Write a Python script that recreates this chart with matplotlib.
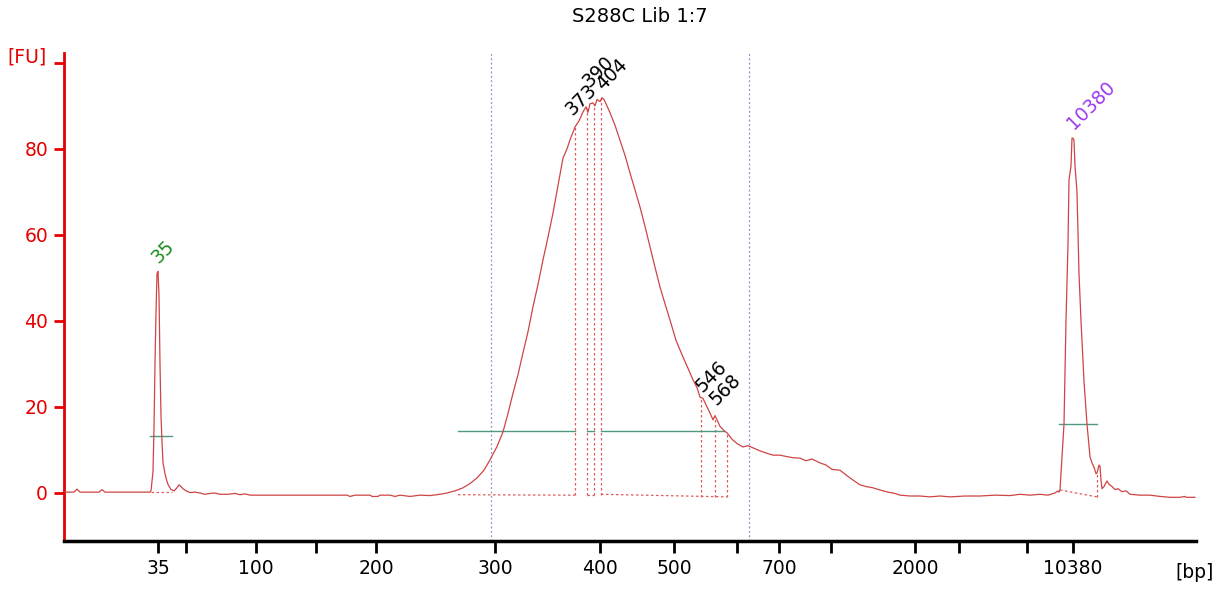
import matplotlib
matplotlib.use("Agg")
import matplotlib.pyplot as plt

plt.rcParams['font.family'] = ['DejaVu Sans']

# ---------------- data ----------------
# migration position (axis units) and fluorescence [FU]
trace_pos = [65, 74, 77, 80, 99, 102, 105, 150,
             151, 153, 154, 155, 156, 157, 158, 159, 160, 161, 162, 163, 165, 166, 168, 171, 174,
             177, 179, 181, 183, 186, 190, 195, 200, 205, 210, 215, 220, 228, 235, 240, 245, 250,
             300, 347, 350, 355, 370, 372, 378, 380, 390, 395, 400, 410, 420, 430, 440, 447,
             455, 463, 470, 477, 484, 490, 497, 503, 508, 513, 518, 523, 528, 533, 538, 543, 548,
             553, 558, 563, 567, 570, 575, 579, 583, 586, 588, 590, 593, 595, 597, 600, 602, 604,
             607, 610, 615, 620, 625, 630, 635, 640, 645, 650, 655, 660, 665, 670, 676, 683, 688,
             693, 697, 700, 703, 706, 710, 713, 715, 717, 720, 724, 727, 732, 737, 743, 748, 753,
             760, 766, 773, 780, 786, 793, 800, 806, 812, 820, 826, 832, 840, 846, 853, 860, 866,
             873, 880, 888, 895, 900, 910, 920, 930, 940, 950, 965, 980, 995, 1010, 1020, 1030,
             1040, 1048, 1055, 1058, 1059, 1060, 1062, 1064, 1066, 1068, 1069, 1071, 1072, 1073,
             1074, 1075, 1077, 1079, 1081, 1084, 1087, 1089, 1090, 1092, 1094, 1096, 1097, 1099,
             1100, 1101, 1102, 1104, 1107, 1109, 1112, 1115, 1118, 1122, 1126, 1130, 1140, 1150,
             1160, 1170, 1180, 1185, 1186, 1195]
trace_fu = [0.2, 0.2, 0.9, 0.2, 0.2, 0.8, 0.2, 0.2,
            0.5, 5, 15, 30, 42, 51, 51.5, 46, 30, 18, 12, 7, 4.5, 3.5, 2, 0.8, 0.5,
            1.2, 1.9, 1.5, 1.0, 0.5, 0.1, 0.2, 0.0, -0.3, -0.1, 0.0, -0.3, -0.3, -0.1, -0.4, -0.2, -0.5,
            -0.5, -0.5, -0.8, -0.5, -0.5, -0.8, -0.8, -0.5, -0.5, -0.8, -0.5, -0.8, -0.5, -0.6, -0.3, 0.0,
            0.5, 1.2, 2.2, 3.5, 5.3, 7.7, 10.8, 14.2, 18.5, 23.2, 27.5, 32.6, 37.5, 43.3, 48.5, 54.2, 59.5,
            65.1, 71.5, 77.9, 80, 82.1, 85.1, 86.5, 88.6, 89.8, 88.5, 90.5, 90.7, 90, 91.5, 91, 91.9, 91.5,
            90, 88.4, 85.5, 82, 78.5, 74.4, 70.5, 66.5, 62, 57.2, 52.5, 47.9, 44, 40.2, 35.5, 31.6, 29,
            26.3, 24.5, 22.3, 22, 20.5, 18.6, 17, 18, 17, 15.5, 14.5, 14, 12.5, 11.5, 10.7, 11, 10.5,
            9.8, 9.3, 8.8, 8.8, 8.5, 8.2, 8.1, 7.5, 7.9, 7, 6.5, 5.5, 5.3, 4.2, 3, 1.9, 1.5,
            1.2, 0.7, 0.2, -0.1, -0.5, -0.7, -0.7, -0.9, -0.7, -0.9, -0.7, -0.7, -0.5, -0.6, -0.3, -0.5,
            -0.3, -0.5, 0.0, 0.5, 0.2, 0.7, 8.4, 16, 40, 58, 72.8, 76, 82.5, 82.5,
            82, 76, 70, 51, 40, 26, 16, 11, 8.4, 7, 6, 4.5, 4.6, 6.5,
            6.2, 3, 1.0, 1.5, 2.8, 2, 1.5, 0.8, 1.0, 0.3, 0.5, -0.3, -0.5, -0.5,
            -0.8, -1.0, -1.0, -0.8, -1.0, -1.0]

# axis ticks (migration position) and their bp labels
tick_pos = [158, 186, 256, 316, 376, 495, 600, 674, 737, 779, 831, 915, 959, 1027, 1073]
tick_bp = ['35', '', '100', '', '200', '300', '400', '500', '', '700', '', '2000', '', '', '10380']

# detected peaks: label, position of label anchor, colour
peak_labels = ['35', '373', '390', '404', '546', '568', '10380']
peak_label_pos = [163, 581, 598, 612, 711, 725, 1091]
peak_label_fu = [56.0, 91.4, 97.9, 97.4, 27.2, 24.0, 90.2]
peak_label_col = ['#1f8f1f', 'black', 'black', 'black', 'black', 'black', '#9b3bef']

# peak boundaries (dotted): position, baseline FU, curve FU
bound_pos = [575, 587, 594, 601, 701, 715, 727, 1097]
bound_lo = [-0.5, -0.5, -0.5, -0.5, -0.9, -0.9, -0.9, -0.9]
bound_hi = [85.1, 89.6, 90.3, 91.8, 22.3, 17.5, 14.0, 4.6]

# dotted baselines (start, end, FU start, FU end)
base_x0 = [151, 458, 587, 601, 1060]
base_x1 = [172, 575, 594, 727, 1097]
base_y0 = [0.2, -0.4, -0.5, -0.3, 0.7]
base_y1 = [0.2, -0.5, -0.5, -0.9, -0.9]

# half-height (width) lines
hh_x0 = [150, 458, 587, 601, 1059]
hh_x1 = [172, 575, 594, 724, 1097]
hh_fu = [13.2, 14.5, 14.5, 14.5, 16.0]

# region markers
region_pos = [491, 749]

# ---------------- drawing ----------------
RED = '#e60000'
TRACE = '#cf4444'
FS = 13.5

fig = plt.figure(figsize=(12.16, 5.9), dpi=100)
ax = fig.add_axes([64 / 1216, 49 / 590, 1132 / 1216, 488 / 590])
ax.set_xlim(64, 1196)
ax.set_ylim(-11.16, 102.3)

for xr in region_pos:
    ax.axvline(xr, color='#8f8fd0', lw=0.9, ls=(0, (1.5, 2)), zorder=1)

for x0, x1, y0, y1 in zip(base_x0, base_x1, base_y0, base_y1):
    ax.plot([x0, x1], [y0, y1], color='#e05a5a', lw=0.9, ls=(0, (2, 2)), zorder=2)
for xb, lo, hi in zip(bound_pos, bound_lo, bound_hi):
    ax.plot([xb, xb], [lo, hi], color='#e05a5a', lw=0.9, ls=(0, (2, 2)), zorder=2)

for x0, x1, y in zip(hh_x0, hh_x1, hh_fu):
    ax.plot([x0, x1], [y, y], color='#4e9a7e', lw=1.0, zorder=3)

ax.plot(trace_pos, trace_fu, color=TRACE, lw=0.9, zorder=4)

for lab, xp, yp, c in zip(peak_labels, peak_label_pos, peak_label_fu, peak_label_col):
    ax.text(xp, yp, lab, rotation=45, ha='center', va='center', rotation_mode='anchor',
            color=c, fontsize=FS)

for s in ['top', 'right']:
    ax.spines[s].set_visible(False)
ax.spines['left'].set_color(RED)
ax.spines['left'].set_linewidth(2)
ax.spines['bottom'].set_color('black')
ax.spines['bottom'].set_linewidth(2.5)

ax.set_yticks([0, 20, 40, 60, 80, 100])
ax.set_yticklabels(['0', '20', '40', '60', '80', ''])
ax.tick_params(axis='y', colors=RED, length=7.5, width=2, pad=4, labelsize=FS)

ax.set_xticks(tick_pos)
ax.set_xticklabels(tick_bp)
ax.tick_params(axis='x', colors='black', length=8.6, width=2, pad=4, labelsize=FS)

fig.text(27 / 1216, 1 - 57 / 590, '[FU]', ha='center', va='center', color=RED, fontsize=FS)
fig.text(1195 / 1216, 1 - 572 / 590, '[bp]', ha='center', va='center', color='black', fontsize=FS)
fig.text(640 / 1216, 1 - 16 / 590, 'S288C Lib 1:7', ha='center', va='center', color='black', fontsize=14)

fig.savefig('out.png', dpi=100)
